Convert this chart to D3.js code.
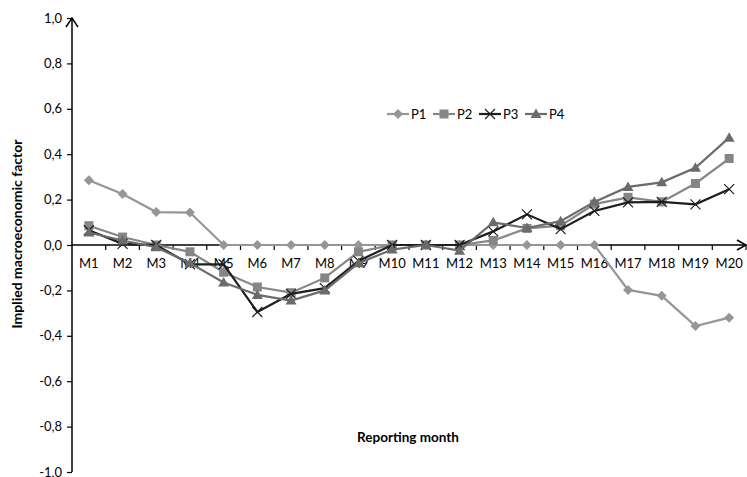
<!DOCTYPE html>
<html><head><meta charset="utf-8">
<script src="https://cdn.jsdelivr.net/npm/d3@7"></script>
<style>body{margin:0;background:#fff}svg{display:block}text{font-family:Lato,"Open Sans",sans-serif}</style>
</head><body>
<svg id="c" width="747" height="477"></svg>
<script>
const categories = ["M1","M2","M3","M4","M5","M6","M7","M8","M9","M10","M11","M12","M13","M14","M15","M16","M17","M18","M19","M20"];
const seriesNames = ["P1","P2","P3","P4"];
const p1 = [0.285,0.225,0.145,0.143,0,0,0,0,0,0,0,0,0,0,0,0,-0.198,-0.224,-0.357,-0.32];
const p2 = [0.085,0.035,0.0,-0.03,-0.12,-0.185,-0.21,-0.145,-0.03,0.0,0.0,0.0,0.02,0.073,0.085,0.18,0.21,0.19,0.271,0.381];
const p3 = [0.065,0.005,0.0,-0.085,-0.085,-0.295,-0.215,-0.19,-0.07,0.0,0.0,0.0,0.06,0.135,0.07,0.15,0.188,0.19,0.179,0.246];
const p4 = [0.055,0.02,-0.01,-0.08,-0.165,-0.22,-0.245,-0.2,-0.08,-0.02,0.0,-0.025,0.1,0.075,0.105,0.19,0.256,0.276,0.34,0.473];
const yTicks = [-1,-0.8,-0.6,-0.4,-0.2,0,0.2,0.4,0.6,0.8,1];
const colors = ["#969696","#868686","#1e1e1e","#6b6b6b"];
const symbols = ["diamond","square","cross","triangle"];

const svg = d3.select("#c");
const x = d3.scaleBand().domain(categories).range([72, 746]).padding(0);
const y = d3.scaleLinear().domain([-1, 1]).range([472, 18]);
const fmt = v => d3.format(".1f")(v).replace(".", ",").replace("−","-");

// Y axis
const yAxis = svg.append("g").attr("transform","translate(72,0)")
  .call(d3.axisLeft(y).tickValues(yTicks).tickFormat(fmt).tickSize(5).tickPadding(5));
yAxis.select(".domain").remove();
yAxis.selectAll("line").attr("stroke","#000").attr("stroke-width",1.2);
yAxis.selectAll("text").attr("font-size",13).attr("fill","#000");
svg.append("line").attr("x1",72).attr("x2",72).attr("y1",y(-1)).attr("y2",y(1)+1).attr("stroke","#000").attr("stroke-width",1.5);
svg.append("path").attr("d",`M66,${y(1)+9} L72,${y(1)} L78,${y(1)+9}`).attr("fill","none").attr("stroke","#000").attr("stroke-width",1.5);

// X axis
const y0 = y(0);
const xAxis = svg.append("g").attr("transform",`translate(0,${y0})`)
  .call(d3.axisBottom(x).tickSize(0).tickPadding(14));
xAxis.select(".domain").remove();
xAxis.selectAll("text").attr("font-size",13).attr("fill","#000");
svg.append("line").attr("x1",72).attr("x2",745).attr("y1",y0).attr("y2",y0).attr("stroke","#000").attr("stroke-width",1.5);
svg.append("path").attr("d",`M737,${y0-5} L746,${y0} L737,${y0+5}`).attr("fill","none").attr("stroke","#000").attr("stroke-width",1.5);
svg.selectAll(".xb").data(categories.slice(1).concat(["end"])).enter().append("line")
  .attr("x1",(d,i)=> x(categories[0]) + (i+1)*x.bandwidth())
  .attr("x2",(d,i)=> x(categories[0]) + (i+1)*x.bandwidth())
  .attr("y1",y0).attr("y2",y0+5).attr("stroke","#000").attr("stroke-width",1.2);

// Titles
svg.append("text").attr("x",408).attr("y",442).attr("text-anchor","middle")
  .attr("font-size",13.5).attr("font-weight","bold").text("Reporting month");
svg.append("text").attr("transform","translate(22,234) rotate(-90)").attr("text-anchor","middle")
  .attr("font-size",14).attr("font-weight","bold").text("Implied  macroeconomic factor");

// Series
const data = [p1,p2,p3,p4];
const line = d3.line().x((d,i)=>x(categories[i])+x.bandwidth()/2).y(d=>y(d));
function marker(g, type, color, cx, cy){
  if(type==="diamond"){
    g.append("path").attr("d",`M${cx},${cy-5} L${cx+5},${cy} L${cx},${cy+5} L${cx-5},${cy} Z`).attr("fill",color);
  } else if(type==="square"){
    g.append("rect").attr("x",cx-4.5).attr("y",cy-4.5).attr("width",9).attr("height",9).attr("fill",color);
  } else if(type==="triangle"){
    g.append("path").attr("d",`M${cx},${cy-5.5} L${cx+5.5},${cy+4} L${cx-5.5},${cy+4} Z`).attr("fill",color);
  } else {
    g.append("path").attr("d",`M${cx-5},${cy-5} L${cx+5},${cy+5} M${cx-5},${cy+5} L${cx+5},${cy-5}`).attr("stroke",color).attr("stroke-width",1.2);
  }
}
data.forEach((s,k)=>{
  const g = svg.append("g");
  g.append("path").datum(s).attr("d",line).attr("fill","none").attr("stroke",colors[k]).attr("stroke-width",2.2);
  s.forEach((v,i)=> marker(g, symbols[k], colors[k], x(categories[i])+x.bandwidth()/2, y(v)));
});

// Legend
const legX = [387, 433, 479, 525];
seriesNames.forEach((n,k)=>{
  const g = svg.append("g");
  const lx = legX[k], ly = 114;
  g.append("line").attr("x1",lx).attr("x2",lx+22).attr("y1",ly).attr("y2",ly).attr("stroke",colors[k]).attr("stroke-width",2.2);
  marker(g, symbols[k], colors[k], lx+11, ly);
  g.append("text").attr("x",lx+24).attr("y",ly+4.5).attr("font-size",13).attr("fill","#000").text(n);
});
</script>
</body></html>
